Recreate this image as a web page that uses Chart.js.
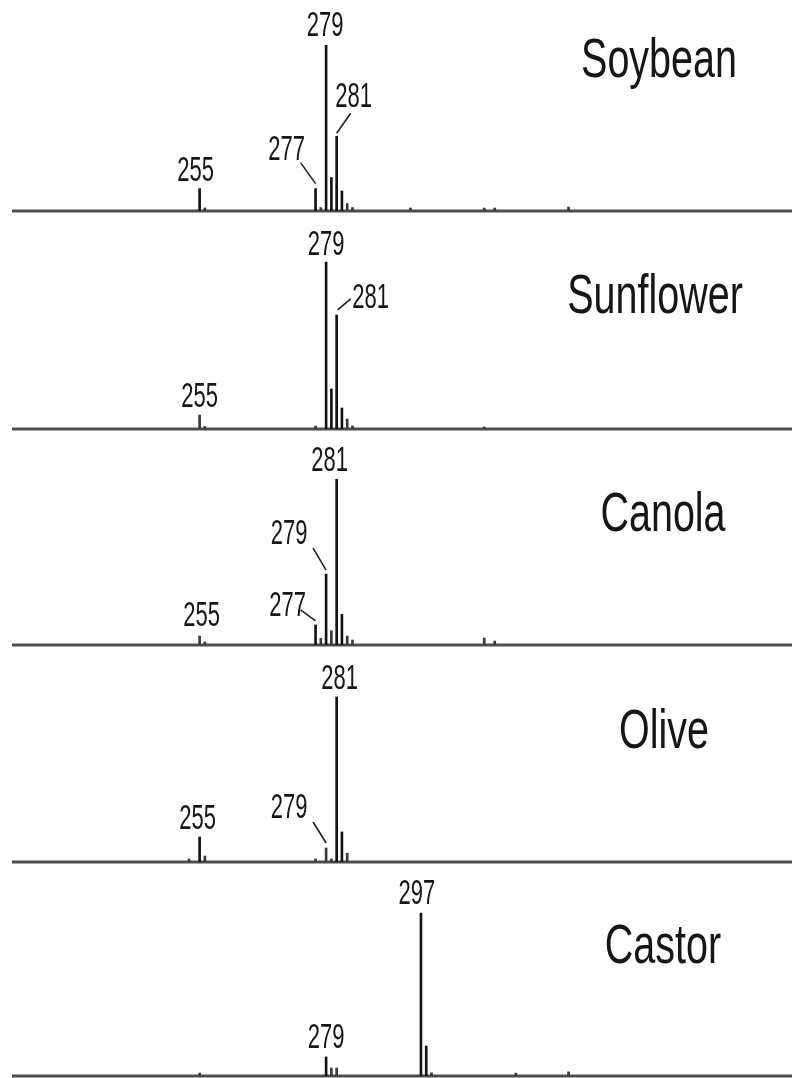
<!DOCTYPE html>
<html>
<head>
<meta charset="utf-8">
<title>Mass spectra of vegetable oils</title>
<script src="https://cdn.jsdelivr.net/npm/chart.js@4/dist/chart.umd.min.js"></script>
<style>
  html, body { margin: 0; padding: 0; background: #fff; }
  #wrap { position: relative; width: 792px; height: 1078px; overflow: hidden; }
  #wrap canvas { position: absolute; left: 0; }
</style>
</head>
<body>
<div id="wrap"></div>
<script>
// oil names, top to bottom
const oils = ["Soybean", "Sunflower", "Canola", "Olive", "Castor"];

// m/z of peaks and relative intensity (%)
const soybeanMz   = [255, 256, 277, 278, 279, 280, 281, 282, 283, 284, 295, 309, 311, 325];
const soybeanInt  = [13.5, 1.8, 13.5, 2.1, 100, 20.2, 45.1, 12.1, 4.5, 2.1, 1.8, 1.8, 1.8, 2.4];
const sunflowerMz  = [255, 256, 277, 279, 280, 281, 282, 283, 284, 309];
const sunflowerInt = [8.4, 1.5, 1.8, 100, 24, 68.3, 12.6, 6, 1.8, 1.2];
const canolaMz  = [255, 256, 277, 278, 279, 280, 281, 282, 283, 284, 309, 311];
const canolaInt = [5.4, 1.8, 12.1, 4, 42.8, 8.6, 100, 18.5, 5.4, 3, 4.2, 2.4];
const oliveMz  = [253, 255, 256, 277, 279, 280, 281, 282, 283];
const oliveInt = [1.8, 15.2, 3.6, 1.8, 8.5, 1.8, 100, 18.2, 5.3];
const castorMz  = [255, 279, 280, 281, 297, 298, 299, 315, 325];
const castorInt = [1.8, 11.7, 4.9, 4.9, 100, 18.4, 2, 1.8, 2.5];

// peaks that carry a number
const soybeanLabels   = [255, 277, 279, 281];
const sunflowerLabels = [255, 279, 281];
const canolaLabels    = [255, 277, 279, 281];
const oliveLabels     = [255, 279, 281];
const castorLabels    = [279, 297];

const allMz = [soybeanMz, sunflowerMz, canolaMz, oliveMz, castorMz];
const allInt = [soybeanInt, sunflowerInt, canolaInt, oliveInt, castorInt];
const allLabels = [soybeanLabels, sunflowerLabels, canolaLabels, oliveLabels, castorLabels];

// layout: baseline of each panel (page px), top of y scale, title place
const baselines = [211, 429, 645, 862, 1076];
const yTops = [123.7, 122.8, 123.7, 124.2, 125.8];
const titleX = [659, 655, 663, 664, 663];
const titleDy = [-134, -116, -114, -114, -113];
const AREA_H = 205;

// label offsets from the peak top: dx, dy of text, optional leader line
const labelPlace = [
  { 255: [-4, -8], 277: [-29, -29, [-15, -26, 0, -5]], 279: [-1, -9], 281: [17, -29, [14, -23, 0, -3]] },
  { 255: [0, -8], 279: [0, -7], 281: [34, -7, [14, -16, 1, -5]] },
  { 255: [2, -10], 277: [-28, -9, [-15, -15, 0, -4]], 279: [-37, -30, [-13, -26, 0, -4]], 281: [-7, -8] },
  { 255: [-2, -8], 279: [-37, -30, [-13, -26, 0, -5]], 281: [3, -8] },
  { 279: [0, -9], 297: [-4, -9] }
];

function tallText(ctx, s, x, y, size, sy) {
  ctx.save();
  ctx.translate(x, y);
  ctx.scale(1, sy);
  ctx.font = size + "px 'Liberation Sans', Arial, sans-serif";
  ctx.textAlign = "center";
  ctx.textBaseline = "alphabetic";
  ctx.fillStyle = "#161616";
  ctx.fillText(s, 0, 0);
  ctx.restore();
}

const spectrumDeco = {
  id: "spectrumDeco",
  beforeDatasetsDraw(chart) {
    const { ctx, chartArea, scales } = chart;
    const y0 = scales.y.getPixelForValue(0);
    ctx.save();
    ctx.strokeStyle = "#4e4e4e";
    ctx.lineWidth = 3;
    ctx.beginPath();
    ctx.moveTo(chartArea.left, y0);
    ctx.lineTo(chartArea.right, y0);
    ctx.stroke();
    ctx.restore();
  },
  afterDatasetsDraw(chart, args, opts) {
    const { ctx, scales } = chart;
    const i = opts.panel;
    const y0 = scales.y.getPixelForValue(0);
    allLabels[i].forEach((mz) => {
      const v = allInt[i][allMz[i].indexOf(mz)];
      const x = scales.x.getPixelForValue(mz);
      const top = scales.y.getPixelForValue(v);
      const place = labelPlace[i][mz];
      tallText(ctx, String(mz), x + place[0], top + place[1], 22, 1.6);
      if (place[2]) {
        const l = place[2];
        ctx.save();
        ctx.strokeStyle = "#222";
        ctx.lineWidth = 1.6;
        ctx.beginPath();
        ctx.moveTo(x + l[0], top + l[1]);
        ctx.lineTo(x + l[2], top + l[3]);
        ctx.stroke();
        ctx.restore();
      }
    });
    tallText(ctx, oils[i], titleX[i], y0 + titleDy[i], 39.5, 1.42);
  }
};

const wrap = document.getElementById("wrap");

oils.forEach((oil, i) => {
  const canvas = document.createElement("canvas");
  canvas.width = 792;
  canvas.height = AREA_H + 3;
  canvas.style.top = (baselines[i] - AREA_H) + "px";
  wrap.appendChild(canvas);

  new Chart(canvas.getContext("2d"), {
    type: "bar",
    data: {
      datasets: [{
        label: oil,
        data: allMz[i].map((mz, k) => ({ x: mz, y: allInt[i][k] })),
        backgroundColor: (c) => (c.raw && c.raw.y < 10 ? "#3a3a3a" : "#141414"),
        borderWidth: 0,
        barThickness: 2
      }]
    },
    options: {
      responsive: false,
      animation: false,
      layout: { padding: { left: 12, right: 0, top: 0, bottom: 3 } },
      scales: {
        x: { type: "linear", min: 219.4, max: 367.4, offset: false, display: false },
        y: { min: 0, max: yTops[i], display: false }
      },
      plugins: {
        legend: { display: false },
        tooltip: { enabled: false },
        spectrumDeco: { panel: i }
      }
    },
    plugins: [spectrumDeco]
  });
});
</script>
</body>
</html>
